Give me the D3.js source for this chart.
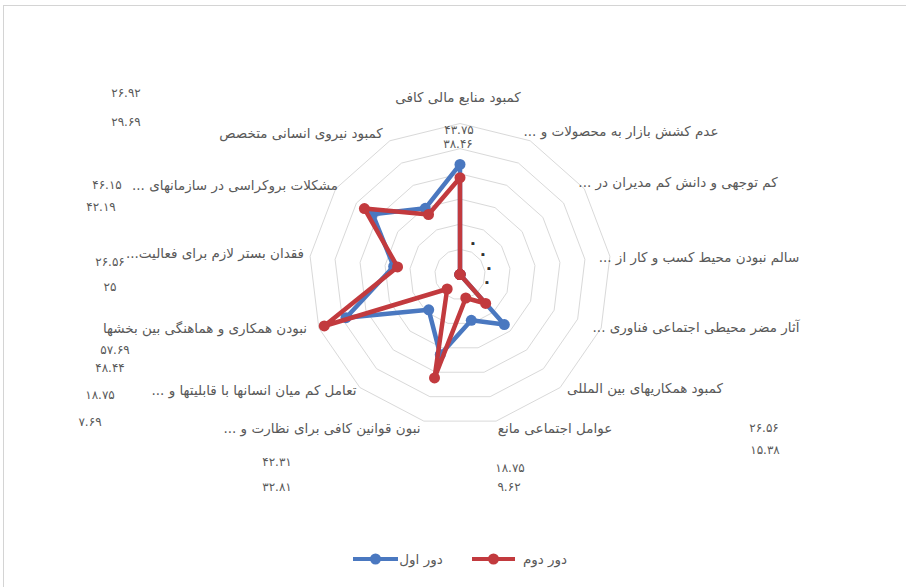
<!DOCTYPE html>
<html>
<head>
<meta charset="utf-8">
<script src="https://cdnjs.cloudflare.com/ajax/libs/d3/7.8.5/d3.min.js"></script>
<style>
  html, body { margin: 0; padding: 0; background: #fff; }
  svg { display: block; }
  .ar { font-family: "DejaVu Sans", sans-serif; fill: #595959; direction: rtl; unicode-bidi: embed; }
</style>
</head>
<body>
<svg id="chart" width="906" height="587"></svg>
<script>
// Categories, clockwise from the top spoke
const categories = [
  "کمبود منابع مالی کافی",
  "عدم کشش بازار به محصولات و ...",
  "کم توجهی و دانش کم مدیران در ...",
  "سالم نبودن محیط کسب و کار از ...",
  "آثار مضر محیطی اجتماعی فناوری ...",
  "کمبود همکاریهای بین المللی",
  "عوامل اجتماعی مانع",
  "نبون قوانین کافی برای نظارت و ...",
  "تعامل کم میان انسانها با قابلیتها و ...",
  "نبودن همکاری و هماهنگی بین بخشها",
  "فقدان بستر لازم برای فعالیت...",
  "مشکلات بروکراسی در سازمانهای ...",
  "کمبود نیروی انسانی متخصص"
];

// Series values (percent)
const round1 = [43.75, 0, 0, 0, 0, 26.56, 18.75, 32.81, 18.75, 48.44, 26.56, 42.19, 29.69];
const round2 = [38.46, 0, 0, 0, 0, 15.38, 9.62, 42.31, 7.69, 57.69, 25, 46.15, 26.92];
const seriesNames = ["دور اول", "دور دوم"];

// Radial grid levels
const ringTicks = [10, 20, 30, 40, 50, 60];

// ---- layout ----
const W = 906, H = 587;
const cx = 460, cy = 274.5, R = 151;
const colors = ["#4a78c0", "#c23a3e"];

// label anchor points (centre of each text)
const categoryLabelAt = [
  [458, 97], [621, 131], [678, 182], [699, 257], [696, 327], [645, 388], [555, 428],
  [322, 428], [254, 390], [205, 328], [215, 253], [235, 185], [301, 133]
];
const valueLabelAt = [
  [[459, 130], [473, 243], [483, 254], [489, 268], [487, 282], [764, 428], [510, 468],
   [277, 487], [100, 395], [110, 368], [110, 262], [101, 207], [126, 122]],
  [[458, 144], [473, 243], [483, 254], [489, 268], [487, 282], [765, 450], [509, 487],
   [277, 462], [90, 422], [115, 350], [110, 287], [107, 185], [126, 93]]
];

const svg = d3.select("#chart");

svg.append("rect")
  .attr("x", 3.5).attr("y", 5.5)
  .attr("width", W + 10).attr("height", H + 10)
  .attr("fill", "#fff").attr("stroke", "#d4d4d4").attr("stroke-width", 1);

const n = categories.length;
const angle = d3.scaleLinear().domain([0, n]).range([0, 2 * Math.PI]);
const r = d3.scaleLinear().domain([0, 60]).range([0, R]);

const pt = (i, v) => {
  const a = angle(i);
  return [cx + r(v) * Math.sin(a), cy - r(v) * Math.cos(a)];
};

// grid rings
const g = svg.append("g");
g.selectAll("path.ring")
  .data(ringTicks)
  .join("path")
  .attr("class", "ring")
  .attr("d", t => d3.line()(d3.range(n).map(i => pt(i, t))) + "Z")
  .attr("fill", "none")
  .attr("stroke", "#d9d9d9")
  .attr("stroke-width", 1);

// series lines and markers
const series = [round1, round2];
const radarLine = d3.line().x(d => d[0]).y(d => d[1]).curve(d3.curveLinearClosed);

series.forEach((vals, s) => {
  const pts = vals.map((v, i) => pt(i, v));
  g.append("path")
    .attr("d", radarLine(pts))
    .attr("fill", "none")
    .attr("stroke", colors[s])
    .attr("stroke-width", 4.5)
    .attr("stroke-linejoin", "round");
  g.selectAll("circle.m" + s)
    .data(pts)
    .join("circle")
    .attr("class", "m" + s)
    .attr("cx", d => d[0]).attr("cy", d => d[1])
    .attr("r", 5.5)
    .attr("fill", colors[s]);
});

// value labels: "#.##" style, Persian digits
const faDigits = "۰۱۲۳۴۵۶۷۸۹";
const fmt = v => {
  const s = v === 0 ? "." : String(+v.toFixed(2));
  return s.replace(/\d/g, d => faDigits[d]);
};

series.forEach((vals, s) => {
  svg.append("g").selectAll("text")
    .data(vals)
    .join("text")
    .attr("class", "ar")
    .attr("x", (v, i) => valueLabelAt[s][i][0])
    .attr("y", (v, i) => valueLabelAt[s][i][1] + (v === 0 ? 2 : 0))
    .attr("dy", v => v === 0 ? "0" : "0.35em")
    .attr("text-anchor", "middle")
    .attr("font-size", v => v === 0 ? 14 : 12)
    .attr("font-weight", v => v === 0 ? "bold" : "normal")
    .style("fill", v => v === 0 ? "#333" : null)
    .text(fmt);
});

// category labels
svg.append("g").selectAll("text")
  .data(categories)
  .join("text")
  .attr("class", "ar")
  .attr("x", (d, i) => categoryLabelAt[i][0])
  .attr("y", (d, i) => categoryLabelAt[i][1])
  .attr("dy", "0.35em")
  .attr("text-anchor", "middle")
  .attr("font-size", 13.5)
  .text(d => d);

// legend
const legendItems = [
  { name: seriesNames[0], color: colors[0], x0: 353, x1: 398, tx: 421 },
  { name: seriesNames[1], color: colors[1], x0: 472, x1: 515, tx: 545 }
];
const ly = 559;
const lg = svg.append("g");
legendItems.forEach(it => {
  lg.append("line")
    .attr("x1", it.x0).attr("x2", it.x1).attr("y1", ly).attr("y2", ly)
    .attr("stroke", it.color).attr("stroke-width", 4);
  lg.append("circle")
    .attr("cx", (it.x0 + it.x1) / 2).attr("cy", ly).attr("r", 5.5)
    .attr("fill", it.color);
  lg.append("text")
    .attr("class", "ar")
    .attr("x", it.tx).attr("y", ly).attr("dy", "0.35em")
    .attr("text-anchor", "middle")
    .attr("font-size", 13.5)
    .text(it.name);
});
</script>
</body>
</html>
